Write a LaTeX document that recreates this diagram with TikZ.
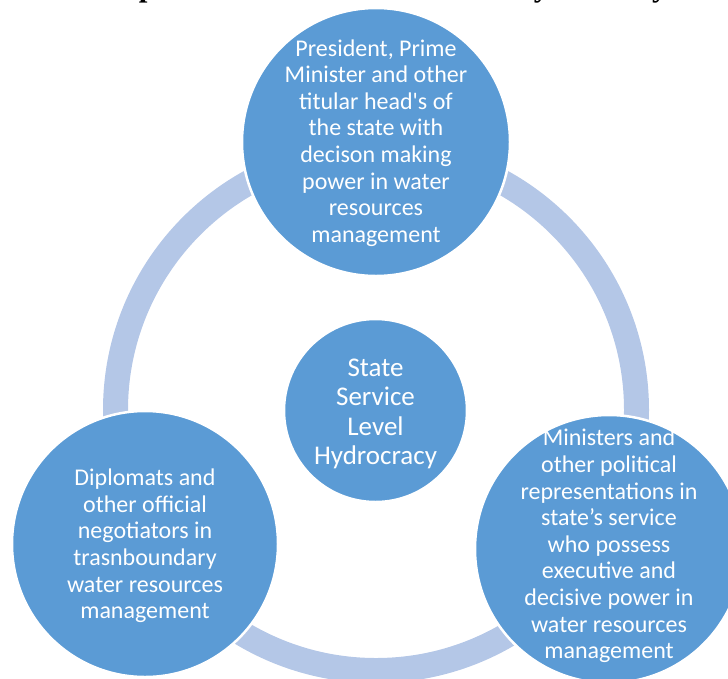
\documentclass[tikz,border=0pt]{standalone}
\usepackage{fontspec}
\newfontfamily\calibri{Carlito}
\newfontfamily\titlefont{Liberation Serif}
\definecolor{circblue}{HTML}{5B9BD5}
\definecolor{ringblue}{HTML}{B4C7E7}
\begin{document}
\begin{tikzpicture}[x=1pt,y=-1pt,
  bubble/.style={circle,fill=circblue,draw=white,line width=2.5pt,inner sep=0pt},
  btext/.style={text=white,align=center,inner sep=0pt,font=\calibri\fontsize{24}{26.6}\selectfont},
  ctext/.style={text=white,align=center,inner sep=0pt,font=\calibri\fontsize{27}{29.4}\selectfont}]
\useasboundingbox (0,0) rectangle (728,678);
\clip (0,0) rectangle (728,678);
\node[anchor=base,inner sep=0pt,font=\titlefont\bfseries\fontsize{31}{36}\selectfont] (title) at (376.5,-4) {Graph 1: State Service Level of Hydrocracy};
\coordinate (ringc) at (376,410);
\draw[ringblue,line width=25pt] (ringc) circle (260.5pt);
\node[bubble,minimum size=268pt] (top) at (376,142) {};
\node[bubble,minimum size=266pt] (bl) at (145,544) {};
\node[bubble,minimum size=268pt] (br) at (609,549) {};
\node[bubble,minimum size=183pt] (mid) at (375.5,410.5) {};
\node[btext] (toptext) at ([yshift=-1pt]top.center) {President, Prime\\Minister and other\\titular head's of\\the state with\\decison making\\power in water\\resources\\management};
\node[btext] (bltext) at ([yshift=-2pt]bl.center) {Diplomats and\\other official\\negotiators in\\trasnboundary\\water resources\\management};
\node[btext] (brtext) at ([yshift=3pt]br.center) {Ministers and\\other political\\representations in\\state’s service\\who possess\\executive and\\decisive power in\\water resources\\management};
\node[ctext] (midtext) at ([yshift=-3.5pt]mid.center) {State\\Service\\Level\\Hydrocracy};
\end{tikzpicture}
\end{document}
